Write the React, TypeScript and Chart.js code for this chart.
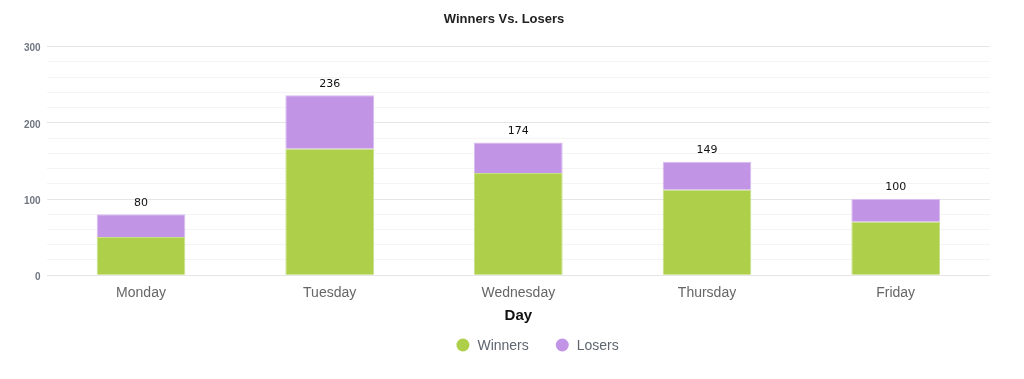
import React, { useEffect, useRef } from "react";
import { Chart, registerables } from "chart.js";

Chart.register(...registerables);

const categories = ["Monday", "Tuesday", "Wednesday", "Thursday", "Friday"];
const winners = [50, 166, 134, 112, 70];
const losers = [30, 70, 40, 37, 30];
const totals = [80, 236, 174, 149, 100];

const totalsPlugin = {
  id: "totals",
  afterDatasetsDraw(chart: any) {
    const ctx = chart.ctx;
    const meta = chart.getDatasetMeta(1);
    ctx.save();
    ctx.font = "11px 'DejaVu Sans'";
    ctx.fillStyle = "#111";
    ctx.textAlign = "center";
    ctx.textBaseline = "bottom";
    meta.data.forEach((bar: any, i: number) => {
      ctx.fillText(String(totals[i]), bar.x, bar.y - 6);
    });
    ctx.restore();
  },
};

const legendPlugin = {
  id: "customLegend",
  afterDraw(chart: any) {
    const ctx = chart.ctx;
    const ds = chart.data.datasets;
    const r = 6.5;
    const gapText = 8;
    const gapItem = 27;
    ctx.save();
    ctx.font = "14px 'Liberation Sans'";
    const widths = ds.map((d: any) => ctx.measureText(d.label).width);
    let total = 0;
    widths.forEach((w: number, i: number) => {
      total += 2 * r + gapText + w + (i < widths.length - 1 ? gapItem : 0);
    });
    const cx = chart.width * 0.525;
    let x = cx - total / 2;
    const y = chart.height - 34;
    ds.forEach((d: any, i: number) => {
      ctx.beginPath();
      ctx.arc(x + r, y, r, 0, Math.PI * 2);
      ctx.fillStyle = d.backgroundColor;
      ctx.fill();
      x += 2 * r + gapText;
      ctx.fillStyle = "#5f6670";
      ctx.textAlign = "left";
      ctx.textBaseline = "middle";
      ctx.fillText(d.label, x, y + 1);
      x += widths[i] + gapItem;
    });
    ctx.restore();
  },
};

export default function App() {
  const ref = useRef<HTMLCanvasElement>(null);
  useEffect(() => {
    document.body.style.margin = "0";
    const chart = new Chart(ref.current!, {
      type: "bar",
      data: {
        labels: categories,
        datasets: [
          {
            label: "Winners",
            data: winners,
            backgroundColor: "#aecf4a",
            borderColor: "#c8e08a",
            borderWidth: 1,
            categoryPercentage: 0.94,
            barPercentage: 0.5,
          },
          {
            label: "Losers",
            data: losers,
            backgroundColor: "#c294e6",
            borderColor: "#d8bdf0",
            borderWidth: 1,
            categoryPercentage: 0.94,
            barPercentage: 0.5,
          },
        ],
      },
      options: {
        animation: false,
        responsive: false,
        maintainAspectRatio: false,
        layout: { padding: { left: 18, right: 34, top: 4, bottom: 48 } },
        plugins: {
          title: {
            display: true,
            text: "Winners Vs. Losers",
            font: { family: "'Liberation Sans'", size: 13, weight: "bold" },
            color: "#222",
            padding: { top: 8, bottom: 19 },
          },
          legend: { display: false },
          tooltip: { enabled: false },
        },
        scales: {
          x: {
            stacked: true,
            grid: { display: false },
            border: { display: false },
            ticks: {
              color: "#666",
              font: { family: "'Liberation Sans'", size: 14 },
              padding: 2,
            },
            title: {
              display: true,
              text: "Day",
              color: "#111",
              font: { family: "'Liberation Sans'", size: 15, weight: "bold" },
              padding: { top: 3, bottom: 6 },
            },
          },
          y: {
            stacked: true,
            min: 0,
            max: 300,
            border: { display: false },
            grid: {
              color: (c: any) =>
                c.tick && c.tick.value % 100 === 0 ? "#e6e6e6" : "#f4f4f4",
              lineWidth: 1,
              drawTicks: false,
            },
            ticks: {
              stepSize: 20,
              autoSkip: false,
              color: "#6f7680",
              padding: 6,
              labelOffset: 2,
              font: { family: "'Liberation Sans'", size: 10, weight: "bold" },
              callback: (v: any) => (Number(v) % 100 === 0 ? String(v) : ""),
            },
          },
        },
      },
      plugins: [totalsPlugin, legendPlugin],
    });
    return () => chart.destroy();
  }, []);
  return (
    <div style={{ width: 1024, height: 379 }}>
      <canvas ref={ref} width={1024} height={379} style={{ display: "block" }} />
    </div>
  );
}
